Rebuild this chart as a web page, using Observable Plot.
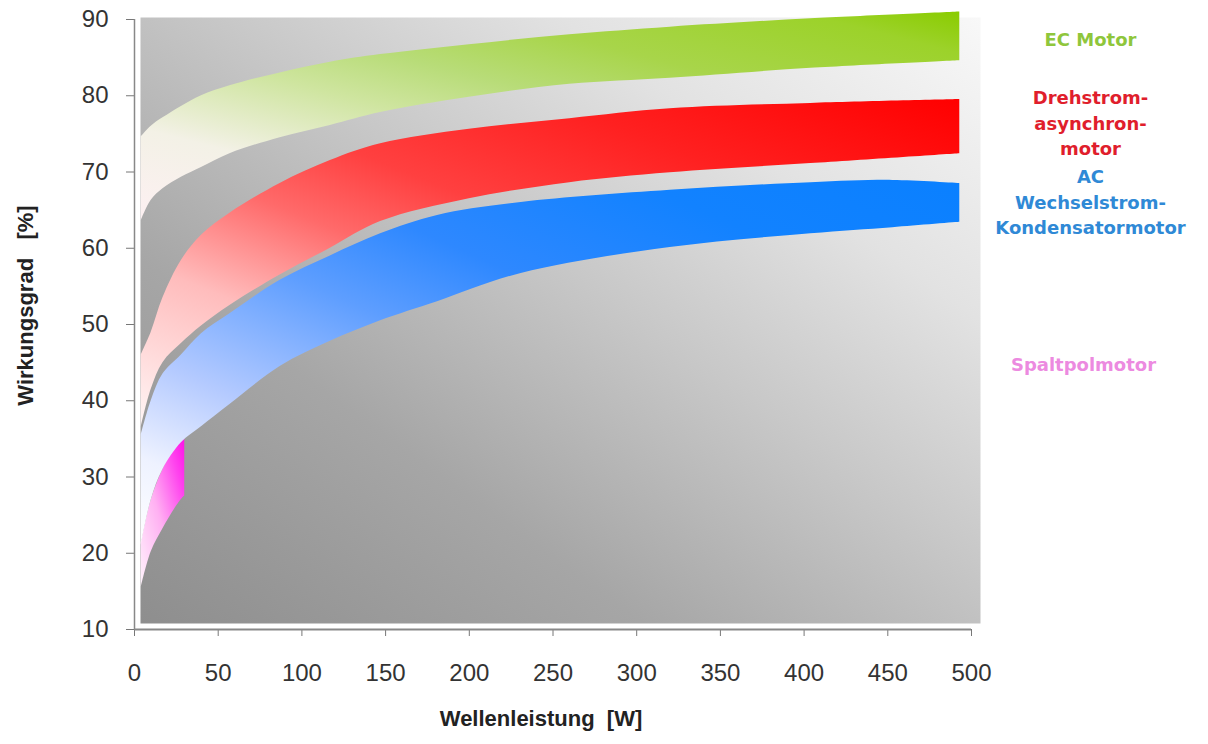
<!DOCTYPE html>
<html>
<head>
<meta charset="utf-8">
<script src="https://cdn.jsdelivr.net/npm/d3@7"></script>
<script src="https://cdn.jsdelivr.net/npm/@observablehq/plot@0.6"></script>
<style>
html, body { margin: 0; padding: 0; background: #fff; }
#chart { width: 1208px; height: 744px; }
</style>
</head>
<body>
<svg width="0" height="0" style="position:absolute">
  <defs>
    <linearGradient id="gBg" x1="0" y1="1" x2="1" y2="0">
      <stop offset="0" stop-color="#8e8e8e"/>
      <stop offset="0.3" stop-color="#a6a6a6"/>
      <stop offset="0.55" stop-color="#c8c8c8"/>
      <stop offset="0.75" stop-color="#e2e2e2"/>
      <stop offset="1" stop-color="#f8f8f8"/>
    </linearGradient>
    <linearGradient id="gGreen" x1="0" y1="1" x2="1" y2="0">
      <stop offset="0" stop-color="#fdf0f2"/>
      <stop offset="0.22" stop-color="#f3f1e6"/>
      <stop offset="0.42" stop-color="#cfe5a0"/>
      <stop offset="0.55" stop-color="#b8dc78"/>
      <stop offset="0.7" stop-color="#a8d54a"/>
      <stop offset="0.9" stop-color="#9cd22a"/>
      <stop offset="1" stop-color="#8acc00"/>
    </linearGradient>
    <linearGradient id="gRed" x1="0" y1="1" x2="1" y2="0">
      <stop offset="0" stop-color="#fff6f6"/>
      <stop offset="0.25" stop-color="#ffbcbc"/>
      <stop offset="0.42" stop-color="#ff6a6a"/>
      <stop offset="0.55" stop-color="#ff4040"/>
      <stop offset="0.75" stop-color="#ff2020"/>
      <stop offset="1" stop-color="#ff0000"/>
    </linearGradient>
    <linearGradient id="gBlue" x1="0" y1="1" x2="1" y2="0">
      <stop offset="0" stop-color="#ffffff"/>
      <stop offset="0.12" stop-color="#eef2ff"/>
      <stop offset="0.26" stop-color="#b4caff"/>
      <stop offset="0.46" stop-color="#5e9eff"/>
      <stop offset="0.6" stop-color="#2e88ff"/>
      <stop offset="0.8" stop-color="#1282ff"/>
      <stop offset="1" stop-color="#0a80ff"/>
    </linearGradient>
    <linearGradient id="gPink" x1="0" y1="1" x2="1" y2="0">
      <stop offset="0" stop-color="#fff4fc"/>
      <stop offset="0.45" stop-color="#ffb0f2"/>
      <stop offset="0.8" stop-color="#ff44ee"/>
      <stop offset="1" stop-color="#ff10e8"/>
    </linearGradient>
  </defs>
</svg>
<div id="chart"></div>
<script>
// X ticks and Y ticks
const xTicks = [0, 50, 100, 150, 200, 250, 300, 350, 400, 450, 500];
const yTicks = [10, 20, 30, 40, 50, 60, 70, 80, 90];

// EC Motor (green band)
const ecX  = [4,    10,   17,   28,   40,   57,   87,   117,  147,  200,  260,  320,  404,  493];
const ecHi = [74.6, 76.0, 77.1, 78.6, 80.0, 81.3, 83.0, 84.4, 85.4, 86.7, 88.0, 89.0, 90.1, 91.0];
const ecLo = [63.6, 66.3, 67.8, 69.3, 70.6, 72.4, 74.5, 76.1, 77.8, 79.8, 81.5, 82.3, 83.6, 84.6];

// Drehstrom-asynchronmotor (red band)
const dsX  = [4,    10,   17,   28,   40,   57,   87,   117,  147,  200,  260,  320,  404,  493];
const dsHi = [46.0, 49.0, 53.5, 58.4, 61.7, 64.6, 68.5, 71.5, 73.7, 75.6, 77.0, 78.3, 79.0, 79.5];
const dsLo = [36.5, 41.5, 45.0, 47.5, 49.8, 52.5, 56.5, 60.0, 63.5, 66.5, 68.6, 69.9, 71.1, 72.4];

// AC Wechselstrom-Kondensatormotor (blue band)
const acX  = [4,    10,   17,   28,   40,   57,   87,   117,  147,  181,  231,  320,  404,  453,  493];
const acHi = [35.5, 40.0, 43.5, 46.0, 48.8, 51.4, 55.8, 59.0, 61.9, 64.3, 66.0, 67.6, 68.6, 68.9, 68.5];
const acLo = [21.0, 27.0, 31.0, 34.5, 36.6, 39.5, 44.5, 47.8, 50.5, 53.0, 56.7, 60.1, 61.9, 62.7, 63.4];

// Spaltpolmotor (pink band)
const spX  = [4,    10,   17,   24,   29,   30];
const spHi = [21.3, 27.0, 31.0, 33.8, 35.0, 35.2];
const spLo = [15.5, 20.2, 23.2, 25.8, 27.3, 27.5];

const legendLabels = ["EC Motor", "Drehstrom-\nasynchron-\nmotor", "AC\nWechselstrom-\nKondensatormotor", "Spaltpolmotor"];
const legendColors = ["#8fc63c", "#e01e2c", "#2f89d6", "#ec8ae0"];

const band = (xs, lo, hi) => xs.map((x, i) => ({x, lo: lo[i], hi: hi[i]}));

const font = "'Liberation Sans', Arial, sans-serif";
const legendFont = "'DejaVu Sans', sans-serif";

const plot = Plot.plot({
  width: 1208,
  height: 744,
  marginLeft: 134,
  marginRight: 237,
  marginTop: 19,
  marginBottom: 115,
  style: {fontFamily: font, fontSize: "24px", color: "#333", background: "#fff"},
  x: {domain: [0, 500]},
  y: {domain: [10, 90]},
  marks: [
    Plot.frame({fill: "url(#gBg)", stroke: null, insetLeft: 6, insetRight: -9, insetTop: -2, insetBottom: 6}),
    Plot.areaY(band(spX, spLo, spHi), {x: "x", y1: "lo", y2: "hi", fill: "url(#gPink)", curve: "catmull-rom"}),
    Plot.areaY(band(acX, acLo, acHi), {x: "x", y1: "lo", y2: "hi", fill: "url(#gBlue)", curve: "catmull-rom"}),
    Plot.areaY(band(dsX, dsLo, dsHi), {x: "x", y1: "lo", y2: "hi", fill: "url(#gRed)", curve: "catmull-rom"}),
    Plot.areaY(band(ecX, ecLo, ecHi), {x: "x", y1: "lo", y2: "hi", fill: "url(#gGreen)", curve: "catmull-rom"}),
    Plot.axisX({ticks: xTicks, tickSize: 7, tickPadding: 27, label: null, stroke: "#777", fill: "#333"}),
    Plot.axisY({ticks: yTicks, tickSize: 8, tickPadding: 18, label: null, stroke: "#777", fill: "#333"}),
    Plot.ruleY([10], {stroke: "#888", strokeWidth: 2}),
    Plot.ruleX([0], {stroke: "#888", strokeWidth: 1.5}),
    Plot.text(["Wellenleistung  [W]"], {frameAnchor: "bottom", textAnchor: "middle", dx: -12, dy: 96, fontSize: 22, fontWeight: "bold", fill: "#222"}),
    Plot.text(["Wirkungsgrad   [%]"], {frameAnchor: "left", textAnchor: "middle", dx: -109, dy: -19, rotate: -90, fontSize: 22, fontWeight: "bold", fill: "#222"}),
    Plot.text([legendLabels[0]], {frameAnchor: "top-right", textAnchor: "middle", dx: 119, dy: 21, fill: legendColors[0], fontSize: 18, fontWeight: "bold", fontFamily: legendFont, lineAnchor: "middle"}),
    Plot.text([legendLabels[1]], {frameAnchor: "top-right", textAnchor: "middle", dx: 119, dy: 102, fill: legendColors[1], fontSize: 18, fontWeight: "bold", fontFamily: legendFont, lineAnchor: "middle", lineHeight: 1.42}),
    Plot.text([legendLabels[2]], {frameAnchor: "top-right", textAnchor: "middle", dx: 119, dy: 181, fill: legendColors[2], fontSize: 18, fontWeight: "bold", fontFamily: legendFont, lineAnchor: "middle", lineHeight: 1.42}),
    Plot.text([legendLabels[3]], {frameAnchor: "top-right", textAnchor: "middle", dx: 112, dy: 346, fill: legendColors[3], fontSize: 18, fontWeight: "bold", fontFamily: legendFont, lineAnchor: "middle"})
  ]
});
document.getElementById("chart").appendChild(plot);
</script>
</body>
</html>
